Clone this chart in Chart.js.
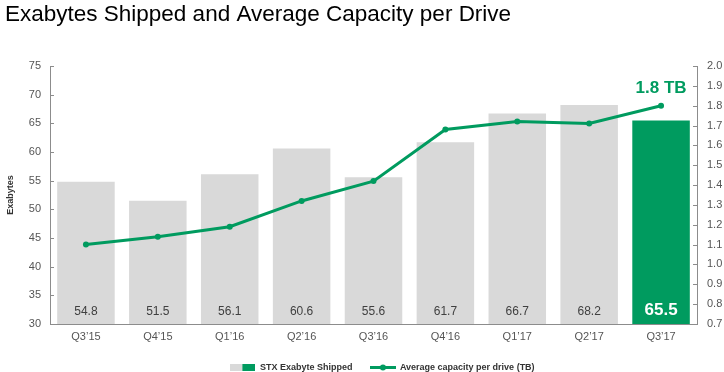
<!DOCTYPE html>
<html>
<head>
<meta charset="utf-8">
<script src="https://cdn.jsdelivr.net/npm/chart.js@4"></script>
<style>
html,body{margin:0;padding:0;background:#fff;}
#wrap{width:724px;height:372px;position:relative;}
</style>
</head>
<body>
<div id="wrap"><canvas id="c"></canvas></div>
<script>
const categories = ["Q3’15","Q4’15","Q1’16","Q2’16","Q3’16","Q4’16","Q1’17","Q2’17","Q3’17"];
const exabytes = [54.8, 51.5, 56.1, 60.6, 55.6, 61.7, 66.7, 68.2, 65.5];
const avgCapacity = [1.10, 1.14, 1.19, 1.32, 1.42, 1.68, 1.72, 1.71, 1.80];
const leftTicks = [30, 35, 40, 45, 50, 55, 60, 65, 70, 75];
const rightTicks = [0.7, 0.8, 0.9, 1.0, 1.1, 1.2, 1.3, 1.4, 1.5, 1.6, 1.7, 1.8, 1.9, 2.0];
const lastLabel = "1.8 TB";

const GREEN = '#009b5f';
const GRAY = '#d9d9d9';
const AXIS = '#8c8c8c';
const FONT = '"Liberation Sans", Arial, sans-serif';

function barSwatch(){
  const c = document.createElement('canvas'); c.width = 25; c.height = 7;
  const x = c.getContext('2d');
  x.fillStyle = GRAY; x.fillRect(0,0,12,7);
  x.fillStyle = GREEN; x.fillRect(12,0,13,7);
  return c;
}
function lineSwatch(){
  const c = document.createElement('canvas'); c.width = 26; c.height = 7;
  const x = c.getContext('2d');
  x.fillStyle = GREEN; x.fillRect(0,2,26,3);
  x.beginPath(); x.arc(13,3.5,3,0,Math.PI*2); x.fill();
  return c;
}
const swatches = [barSwatch(), lineSwatch()];

const lastIdx = exabytes.length - 1;

const labelsPlugin = {
  id: 'labelsPlugin',
  afterLayout(chart){
    if (chart.legend){ chart.legend.left += 18; chart.legend.right += 18; }
  },
  afterDatasetsDraw(chart){
    const ctx = chart.ctx;
    const yL = chart.scales.y;
    const barMeta = chart.getDatasetMeta(0);
    ctx.save();
    ctx.textAlign = 'center';
    ctx.textBaseline = 'middle';
    barMeta.data.forEach((el, i) => {
      if (i === lastIdx){
        ctx.font = 'bold 17px ' + FONT; ctx.fillStyle = '#ffffff';
        ctx.fillText(exabytes[i].toFixed(1), el.x, yL.bottom - 14);
      } else {
        ctx.font = '12px ' + FONT; ctx.fillStyle = '#404040';
        ctx.fillText(exabytes[i].toFixed(1), el.x, yL.bottom - 12);
      }
    });
    const lineMeta = chart.getDatasetMeta(1);
    const p = lineMeta.data[lastIdx];
    ctx.font = 'bold 17px ' + FONT; ctx.fillStyle = GREEN;
    ctx.fillText(lastLabel, p.x, p.y - 17);
    // inward tick marks
    ctx.strokeStyle = AXIS; ctx.lineWidth = 1;
    const yR = chart.scales.y1;
    ctx.beginPath();
    yL.ticks.forEach((t, i) => {
      const py = Math.round(yL.getPixelForTick(i)) + 0.5;
      ctx.moveTo(yL.right, py); ctx.lineTo(yL.right + 4, py);
    });
    yR.ticks.forEach((t, i) => {
      const py = Math.round(yR.getPixelForTick(i)) + 0.5;
      ctx.moveTo(yR.left - 4, py); ctx.lineTo(yR.left, py);
    });
    ctx.stroke();
    ctx.restore();
  }
};

new Chart(document.getElementById('c'), {
  data: {
    labels: categories,
    datasets: [
      {
        type: 'bar',
        label: 'STX Exabyte Shipped',
        data: exabytes,
        yAxisID: 'y',
        backgroundColor: exabytes.map((v, i) => i === lastIdx ? GREEN : GRAY),
        barPercentage: 0.8,
        categoryPercentage: 1.0,
        order: 2
      },
      {
        type: 'line',
        label: 'Average capacity per drive (TB)',
        data: avgCapacity,
        yAxisID: 'y1',
        borderColor: GREEN,
        backgroundColor: GREEN,
        borderWidth: 3,
        pointRadius: 3,
        pointBackgroundColor: GREEN,
        pointBorderWidth: 0,
        tension: 0,
        order: 1
      }
    ]
  },
  options: {
    responsive: true,
    maintainAspectRatio: false,
    animation: false,
    devicePixelRatio: 1,
    layout: { padding: { left: 5, right: 0, top: 0, bottom: -10 } },
    plugins: {
      title: {
        display: true,
        text: 'Exabytes Shipped and Average Capacity per Drive',
        align: 'start',
        color: '#000',
        font: { family: FONT, size: 22.5, weight: 'normal' },
        padding: { top: 1, bottom: 38 }
      },
      legend: {
        position: 'bottom',
        labels: {
          usePointStyle: true,
          pointStyleWidth: 25,
          boxHeight: 7,
          padding: 18,
          color: '#333',
          font: { family: FONT, size: 9, weight: 'bold' },
          generateLabels(chart){
            return chart.data.datasets.map((ds, i) => ({
              text: ds.label,
              pointStyle: swatches[i],
              fillStyle: GREEN,
              strokeStyle: GREEN,
              lineWidth: 0,
              hidden: false,
              datasetIndex: i,
              fontColor: '#333'
            }));
          }
        }
      },
      tooltip: { enabled: false }
    },
    scales: {
      x: {
        afterFit(scale){ scale.height = 21; },
        grid: { display: false, drawTicks: false },
        border: { display: true, color: AXIS, width: 1 },
        ticks: { color: '#555', font: { family: FONT, size: 11 }, padding: 6 }
      },
      y: {
        position: 'left',
        min: 30, max: 75,
        afterBuildTicks(scale){ scale.ticks = leftTicks.map(v => ({ value: v })); },
        afterFit(scale){ scale.width = 45; },
        grid: { display: false, drawTicks: false },
        border: { display: true, color: AXIS, width: 1 },
        ticks: { color: '#555', font: { family: FONT, size: 11 }, padding: 9 },
        title: {
          display: true, text: 'Exabytes', color: '#333',
          font: { family: FONT, size: 9, weight: 'bold' },
          padding: { top: 0, bottom: 0 }
        }
      },
      y1: {
        position: 'right',
        min: 0.7, max: 2.0,
        afterBuildTicks(scale){ scale.ticks = rightTicks.map(v => ({ value: v })); },
        afterFit(scale){ scale.width = 27; },
        grid: { display: false, drawTicks: false },
        border: { display: true, color: AXIS, width: 1 },
        ticks: {
          color: '#555', font: { family: FONT, size: 11 }, padding: 10,
          callback: v => Number(v).toFixed(1)
        }
      }
    }
  },
  plugins: [labelsPlugin]
});
</script>
</body>
</html>
